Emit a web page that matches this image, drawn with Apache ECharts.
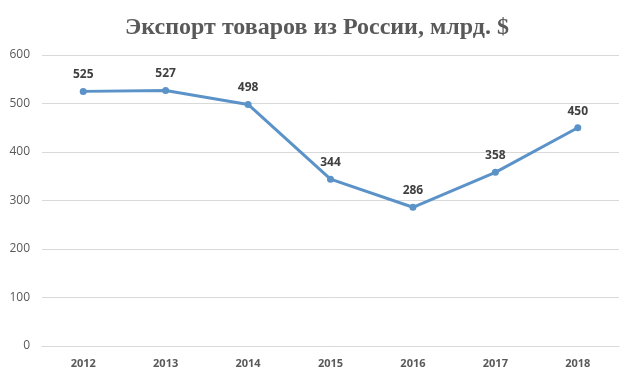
<!DOCTYPE html>
<html><head><meta charset="utf-8">
<script src="https://cdn.jsdelivr.net/npm/echarts@6/dist/echarts.min.js"></script>
<style>html,body{margin:0;padding:0;background:#fff}#c{width:634px;height:380px}</style>
</head><body><div id="c"></div>
<script>
const categories = ['2012','2013','2014','2015','2016','2017','2018'];
const exportValues = [525, 527, 498, 344, 286, 358, 450];
const yTicks = [0, 100, 200, 300, 400, 500, 600];

const chart = echarts.init(document.getElementById('c'));
chart.setOption({
  animation: false,
  backgroundColor: '#fff',
  title: {
    text: 'Экспорт товаров из России, млрд. $',
    left: 'center', top: 11,
    textStyle: { fontFamily: 'Liberation Serif', fontWeight: 'bold', fontSize: 24, color: '#595959' }
  },
  grid: { left: 42, right: 15, top: 55, bottom: 34 },
  xAxis: {
    type: 'category', data: categories, boundaryGap: true,
    axisLine: { show: true, lineStyle: { color: '#d9d9d9' } },
    axisTick: { show: false },
    axisLabel: { color: '#595959', fontSize: 11, fontWeight: 'bold', fontFamily: 'Open Sans', margin: 12 }
  },
  yAxis: {
    type: 'value', min: yTicks[0], max: yTicks[yTicks.length-1], interval: 100,
    axisLine: { show: false }, axisTick: { show: false },
    splitLine: { lineStyle: { color: '#d9d9d9' } },
    axisLabel: { color: '#595959', fontSize: 12, fontFamily: 'Open Sans', margin: 12 }
  },
  series: [{
    type: 'line', data: exportValues,
    lineStyle: { color: '#5b93c8', width: 3 },
    itemStyle: { color: '#5b93c8' },
    symbol: 'circle', symbolSize: 7,
    label: { show: true, position: 'top', distance: 7, color: '#404040', fontSize: 12, fontWeight: 'bold', fontFamily: 'Open Sans' }
  }]
});
</script></body></html>
